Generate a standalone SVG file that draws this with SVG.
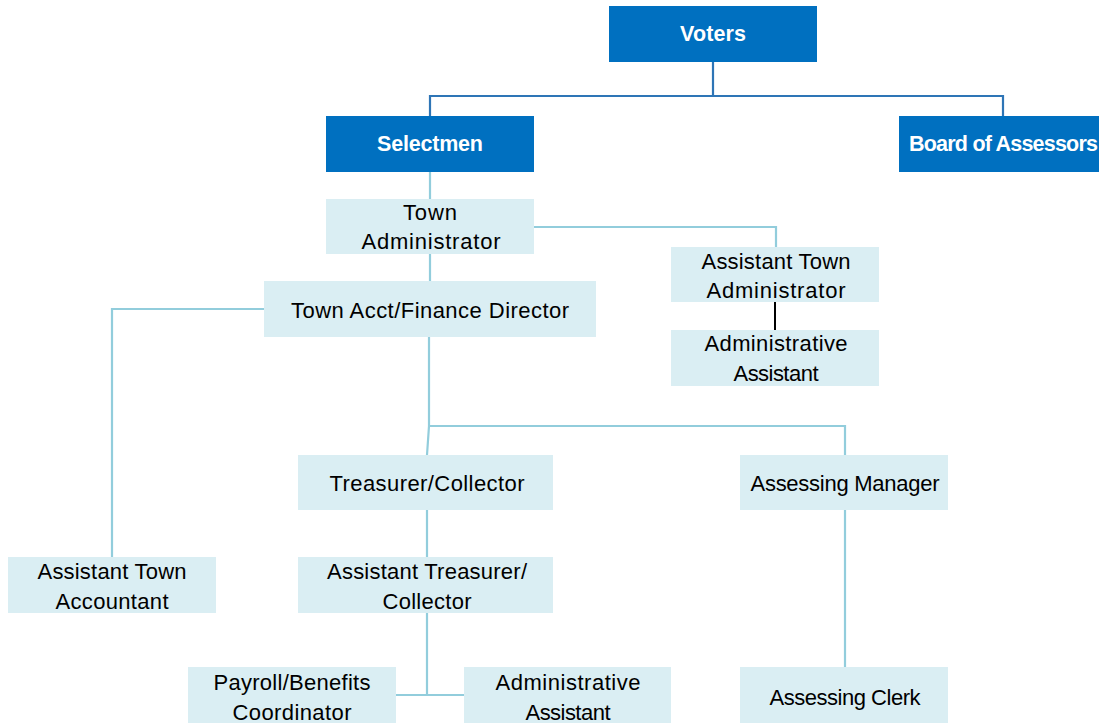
<svg xmlns="http://www.w3.org/2000/svg" width="1099" height="723" viewBox="0 0 1099 723">
  <style>
    .top { fill: #0070C0; }
    .box { fill: #DAEEF3; }
    .hd { font-family: "Liberation Sans", Arial, sans-serif; font-weight: bold; font-size: 21.5px; fill: #FFFFFF; text-anchor: middle; }
    .lb { font-family: "Liberation Sans", Arial, sans-serif; font-size: 22px; fill: #000000; text-anchor: middle; }
    .ln { fill: none; stroke: #92CDDC; stroke-width: 2.2; }
    .lnd { fill: none; stroke: #2E75B6; stroke-width: 2.2; }
    .lnk { fill: none; stroke: #000000; stroke-width: 2; }
  </style>
  <rect width="1099" height="723" fill="#FFFFFF"/>

  <!-- reporting lines -->
  <g id="connectors">
    <path class="lnd" d="M713 61 V96 M430 116 V96 H1003 V116"/>
    <path class="ln" d="M430 172 V199"/>
    <path class="ln" d="M534 227 H776 V247"/>
    <path class="ln" d="M430 254 V281"/>
    <path class="lnk" d="M775 302 V330"/>
    <path class="ln" d="M264 309 H112 V557"/>
    <path class="ln" d="M429 337 V426 L427 455"/>
    <path class="ln" d="M429 426 H845 V455"/>
    <path class="ln" d="M427 510 V557"/>
    <path class="ln" d="M427 612 V695 M396 695 H464"/>
    <path class="ln" d="M845 510 V667"/>
  </g>

  <g id="voters">
    <rect class="top" x="609" y="6" width="208" height="56"/>
    <text class="hd" x="713" y="41" textLength="66">Voters</text>
  </g>
  <g id="selectmen">
    <rect class="top" x="326" y="116" width="208" height="56"/>
    <text class="hd" x="430" y="151" textLength="106">Selectmen</text>
  </g>
  <g id="board-of-assessors">
    <rect class="top" x="899" y="116" width="210" height="56"/>
    <text class="hd" x="909" y="151" style="text-anchor:start" textLength="189">Board of Assessors</text>
  </g>
  <g id="town-administrator">
    <rect class="box" x="326" y="199" width="208" height="55"/>
    <text class="lb" x="430" y="220" textLength="54">Town</text>
    <text class="lb" x="431" y="249" textLength="139">Administrator</text>
  </g>
  <g id="finance-director">
    <rect class="box" x="264" y="281" width="332" height="56"/>
    <text class="lb" x="430" y="318" textLength="278">Town Acct/Finance Director</text>
  </g>
  <g id="assistant-town-administrator">
    <rect class="box" x="671" y="247" width="208" height="55"/>
    <text class="lb" x="776" y="269" textLength="149">Assistant Town</text>
    <text class="lb" x="776" y="298" textLength="139">Administrator</text>
  </g>
  <g id="administrative-assistant-1">
    <rect class="box" x="671" y="330" width="208" height="56"/>
    <text class="lb" x="776" y="351" textLength="143">Administrative</text>
    <text class="lb" x="776" y="381" textLength="85">Assistant</text>
  </g>
  <g id="treasurer-collector">
    <rect class="box" x="298" y="455" width="255" height="55"/>
    <text class="lb" x="427" y="491" textLength="195">Treasurer/Collector</text>
  </g>
  <g id="assessing-manager">
    <rect class="box" x="740" y="455" width="208" height="55"/>
    <text class="lb" x="845" y="491" textLength="189">Assessing Manager</text>
  </g>
  <g id="assistant-town-accountant">
    <rect class="box" x="8" y="557" width="208" height="56"/>
    <text class="lb" x="112" y="579" textLength="149">Assistant Town</text>
    <text class="lb" x="112" y="609" textLength="113">Accountant</text>
  </g>
  <g id="assistant-treasurer-collector">
    <rect class="box" x="298" y="557" width="255" height="56"/>
    <text class="lb" x="427" y="579" textLength="200">Assistant Treasurer/</text>
    <text class="lb" x="427" y="609" textLength="89">Collector</text>
  </g>
  <g id="payroll-benefits-coordinator">
    <rect class="box" x="188" y="667" width="208" height="56"/>
    <text class="lb" x="292" y="690" textLength="157">Payroll/Benefits</text>
    <text class="lb" x="292" y="720" textLength="119">Coordinator</text>
  </g>
  <g id="administrative-assistant-2">
    <rect class="box" x="464" y="667" width="207" height="56"/>
    <text class="lb" x="568" y="690" textLength="145">Administrative</text>
    <text class="lb" x="568" y="720" textLength="85">Assistant</text>
  </g>
  <g id="assessing-clerk">
    <rect class="box" x="740" y="667" width="208" height="56"/>
    <text class="lb" x="845" y="705" textLength="151">Assessing Clerk</text>
  </g>
</svg>
